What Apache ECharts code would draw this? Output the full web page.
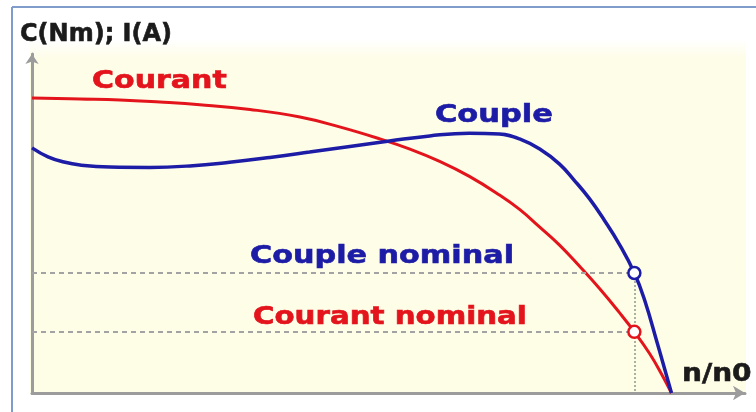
<!DOCTYPE html>
<html>
<head>
<meta charset="utf-8">
<script src="https://cdn.jsdelivr.net/npm/echarts@6/dist/echarts.min.js"></script>
<style>
  html,body{margin:0;padding:0;background:#fff;}
  #chart{width:756px;height:412px;}
</style>
</head>
<body>
<div id="chart"></div>
<script>
// courbe du courant I(A) en fonction de n/n0
var courantN = [0, 0.075, 0.1375, 0.2, 0.2625, 0.341, 0.419, 0.481, 0.544, 0.591, 0.6375, 0.684, 0.731, 0.7625, 0.794, 0.825, 0.856, 0.8875, 0.919, 0.942, 0.966, 0.984, 1];
var courantI = [98.3, 98, 97.7, 97, 96.1, 94.5, 92, 88.7, 84.7, 81.3, 77.2, 72.2, 66, 61.2, 55.3, 49.3, 42.3, 34.8, 26.7, 20.4, 13.1, 6.5, 0];
// courbe du couple C(Nm)
var coupleN = [0, 0.025, 0.05, 0.075, 0.122, 0.184, 0.247, 0.309, 0.372, 0.434, 0.497, 0.559, 0.622, 0.684, 0.731, 0.7625, 0.794, 0.825, 0.848, 0.872, 0.895, 0.919, 0.942, 0.958, 0.978, 1];
var coupleC = [81.7, 78.7, 77, 76, 75.3, 75.2, 75.7, 76.9, 78.5, 80.3, 82.2, 84, 85.7, 86.6, 86.3, 84.7, 81.3, 76.3, 70.9, 64.7, 57.6, 49.4, 40, 31, 16.5, 0];
// point nominal
var nominalN = 0.942;
var nominalCouple = 40;
var nominalCourant = 20.4;

var RED = '#e3141c', BLUE = '#1d1ca6';

function pairs(xs, ys){
  var out = [];
  for (var i = 0; i < xs.length; i++) out.push([xs[i], ys[i]]);
  return out;
}

var chart = echarts.init(document.getElementById('chart'));

var lbl = function(txt, x, y, color, size, sx){
  return {
    type: 'text', x: x, y: y, scaleX: sx, z: 100,
    style: {
      text: txt, fill: color,
      font: 'bold ' + size + 'px "DejaVu Sans"',
      textAlign: 'left', textVerticalAlign: 'middle',
      stroke: color, lineWidth: 0.6
    }
  };
};

var option = {
  backgroundColor: '#fff',
  animation: false,
  grid: {left: 32, right: 11, top: 54, bottom: 19},
  xAxis: {
    type: 'value', min: 0, max: 1.115,
    axisLine: {show: true, symbol: ['none', 'arrow'], symbolSize: [11, 12],
      lineStyle: {color: '#9c9c9c', width: 3}},
    axisTick: {show: false}, axisLabel: {show: false}, splitLine: {show: false}
  },
  yAxis: {
    type: 'value', min: 0, max: 113,
    axisLine: {show: true, symbol: ['none', 'arrow'], symbolSize: [10, 10],
      lineStyle: {color: '#9c9c9c', width: 3}},
    axisTick: {show: false}, axisLabel: {show: false}, splitLine: {show: false}
  },
  graphic: [
    {type: 'rect', z: -10, silent: true,
      shape: {x: 30, y: 40, width: 716, height: 354},
      style: {fill: new echarts.graphic.LinearGradient(0, 0, 0, 1, [
        {offset: 0, color: '#ffffff'}, {offset: 0.05, color: '#fefde8'}, {offset: 1, color: '#fefde6'}])}},
    {type: 'line', z: 100, shape: {x1: 12, y1: 7, x2: 12, y2: 412}, style: {stroke: '#7f9ccb', lineWidth: 2}},
    {type: 'line', z: 100, shape: {x1: 12, y1: 7, x2: 756, y2: 7}, style: {stroke: '#7f9ccb', lineWidth: 2}},
    lbl('C(Nm); I(A)', 20, 35, '#1b1b1b', 24, 1),
    lbl('Courant', 92, 82, RED, 24, 1.25),
    lbl('Couple', 435, 116, BLUE, 24, 1.27),
    lbl('Couple nominal', 250, 257, BLUE, 24, 1.26),
    lbl('Courant nominal', 253, 318, RED, 24, 1.22),
    lbl('n/n0', 682, 374, '#1b1b1b', 25, 1.12)
  ],
  series: [
    {
      name: 'Courant', type: 'line', z: 3,
      data: pairs(courantN, courantI),
      smooth: 0.45, showSymbol: false,
      lineStyle: {color: RED, width: 3},
      markLine: {
        silent: true, symbol: 'none', label: {show: false},
        lineStyle: {color: '#a3a3a3', type: [5, 4], width: 2},
        data: [
          [{coord: [0, nominalCourant]}, {coord: [nominalN, nominalCourant]}],
          [{coord: [0, nominalCouple]}, {coord: [nominalN, nominalCouple]}],
          [{coord: [nominalN, nominalCouple], lineStyle: {type: 'dotted', color: '#a9b2a0'}},
           {coord: [nominalN, 0]}]
        ]
      }
    },
    {
      name: 'Couple', type: 'line', z: 4,
      data: pairs(coupleN, coupleC),
      smooth: 0.45, showSymbol: false,
      lineStyle: {color: BLUE, width: 3.5}
    },
    {
      name: 'Nominal', type: 'scatter', z: 5,
      symbol: 'circle', symbolSize: 12,
      data: [
        {value: [nominalN, nominalCouple], itemStyle: {borderColor: BLUE}},
        {value: [nominalN, nominalCourant], itemStyle: {borderColor: RED}}
      ],
      itemStyle: {color: '#fff', borderWidth: 2.5, opacity: 1}
    }
  ]
};
chart.setOption(option);
</script>
</body>
</html>
